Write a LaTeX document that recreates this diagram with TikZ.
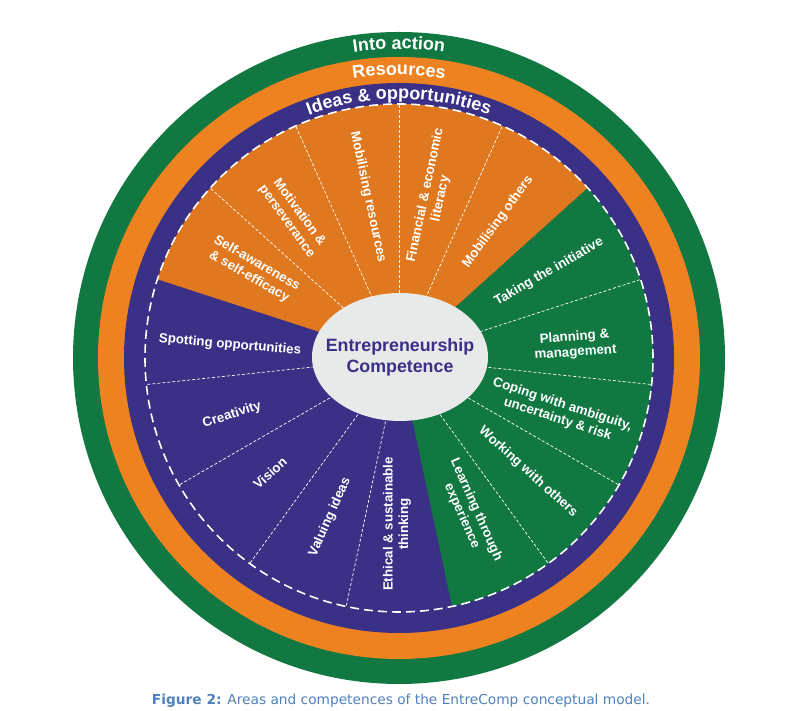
\documentclass[tikz,border=0pt]{standalone}
\usepackage{fontspec}
\usepackage{graphicx}
\setmainfont{Liberation Sans}
\newfontfamily\capfont{DejaVu Sans}
\usetikzlibrary{decorations.text,shapes.geometric}
\definecolor{egreen}{HTML}{117842}
\definecolor{eorange}{HTML}{EF8220}
\definecolor{sorange}{HTML}{E0781F}
\definecolor{epurple}{HTML}{3A3086}
\definecolor{egray}{HTML}{E8E9E9}
\definecolor{ctext}{HTML}{3B2F87}
\definecolor{capblue}{HTML}{4F81BD}
\newcommand\ringfont{\fontsize{18}{20}\selectfont\bfseries}
\begin{document}
\begin{tikzpicture}[x=1pt,y=1pt,
  comp/.style={text=white, font=\fontsize{13.3}{15.5}\selectfont\bfseries, align=center, inner sep=0pt},
  divider/.style={white, line width=0.7pt, dash pattern=on 3pt off 2pt},
  ringtext/.style={decorate, decoration={text along path, text align=center, text color=white, text={#1}}},
]
\useasboundingbox (0,0) rectangle (796,711);
\fill[white] (0,0) rectangle (796,711);
\begin{scope}[shift={(399,353)}]
\fill[egreen] (0,0) circle (326);
\fill[eorange] (0,0) circle (301);
\fill[epurple] (0,0) circle (275);
\fill[sorange] (0,0) -- (42:254) arc[start angle=42, end angle=162, radius=254] -- cycle;
\fill[egreen] (0,0) -- (-78:254) arc[start angle=-78, end angle=42, radius=254] -- cycle;
\fill[epurple] (0,0) -- (162:254) arc[start angle=162, end angle=282, radius=254] -- cycle;
\foreach \a in {66,90,114,138,18,-6,-30,-54,186,210,234,258}
  \draw[divider] (0,0) -- (\a:254);
\draw[white, line width=1.6pt, dash pattern=on 9pt off 5pt] (0,0) circle (254);
\path[ringtext={|\ringfont|Into action}] (180:309) arc[start angle=180, end angle=0, radius=309];
\path[ringtext={|\ringfont|Resources}] (180:283) arc[start angle=180, end angle=0, radius=283];
\path[ringtext={|\ringfont|Ideas {\&} opportunities}] (180:259) arc[start angle=180, end angle=0, radius=259];
\fill[egray] (1,1) ellipse [x radius=88, y radius=64];
\node[text=ctext, font=\fontsize{17.8}{21}\selectfont\bfseries, align=center, inner sep=0pt] (core) at (1,1)
  {Entrepreneurship\\Competence};
\end{scope}
\node[comp, rotate=-30] (selfaw) at (253,441) {Self-awareness\\\& self-efficacy};
\node[comp, rotate=-54] (motiv) at (293,494) {Motivation \&\\perseverance};
\node[comp, rotate=-78] (mobres) at (368,514) {Mobilising resources};
\node[comp, rotate=78] (finan) at (433,514) {Financial \& economic\\literacy};
\node[comp, rotate=54] (moboth) at (498,489) {Mobilising others};
\node[comp, rotate=30] (taking) at (549,439) {Taking the initiative};
\node[comp, rotate=4] (plan) at (575,366) {Planning \&\\management};
\node[comp, rotate=-18] (coping) at (560,299) {Coping with ambiguity,\\uncertainty \& risk};
\node[comp, rotate=-42] (working) at (528,239) {Working with others};
\node[comp, rotate=-66] (learn) at (469,198) {Learning through\\experience};
\node[comp, rotate=90] (ethic) at (397,187) {Ethical \& sustainable\\thinking};
\node[comp, rotate=66] (valu) at (330,194) {Valuing ideas};
\node[comp, rotate=42] (vision) at (270,238) {Vision};
\node[comp, rotate=18] (creat) at (232,296) {Creativity};
\node[comp, rotate=-5] (spot) at (230,366) {Spotting opportunities};
\node[anchor=base, inner sep=0pt] (cap) at (401,6)
  {\resizebox{498pt}{!}{\capfont\color{capblue}\textbf{Figure 2:} Areas and competences of the EntreComp conceptual model.}};
\end{tikzpicture}
\end{document}
